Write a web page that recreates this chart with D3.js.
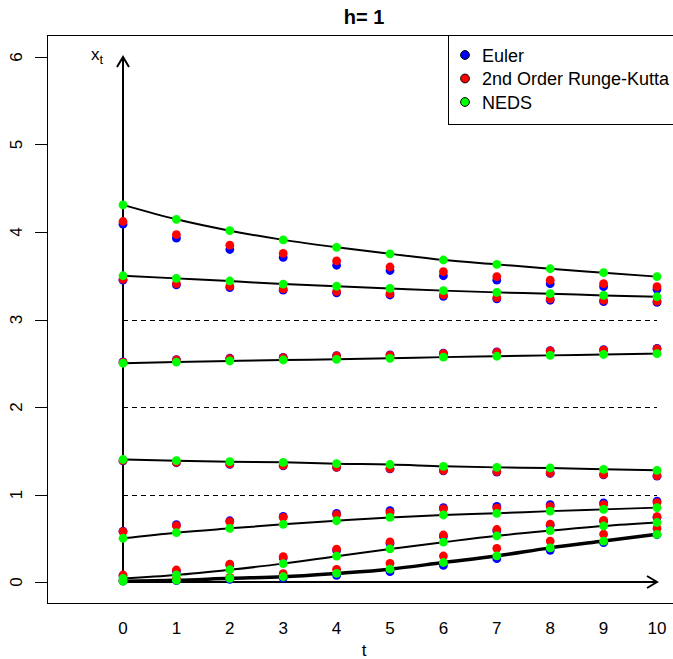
<!DOCTYPE html>
<html lang="en">
<head>
    <meta charset="UTF-8">
    <title>h= 1</title>
    <script src="https://d3js.org/d3.v7.min.js"></script>
    <style>
        body { margin: 0; background: #fff; }
        text { font-family: "Liberation Sans", Arial, sans-serif; fill: #000; }
    </style>
</head>
<body>
    <svg id="chart" width="673" height="659"></svg>

    <script>
        // time steps (h = 1) and y tick labels
        const tValues = [0, 1, 2, 3, 4, 5, 6, 7, 8, 9, 10];
        const yTicks = [0, 1, 2, 3, 4, 5, 6];
        const dashedLevels = [1, 2, 3];

        // Euler approximations, one array per starting value
        const euler = [
            [4.09, 3.93, 3.80, 3.71, 3.62, 3.56, 3.50, 3.45, 3.41, 3.375, 3.345],
            [3.45, 3.395, 3.365, 3.335, 3.305, 3.28, 3.265, 3.235, 3.22, 3.205, 3.195],
            [2.515, 2.542, 2.557, 2.568, 2.588, 2.596, 2.615, 2.63, 2.645, 2.655, 2.67],
            [1.385, 1.363, 1.344, 1.328, 1.309, 1.292, 1.271, 1.256, 1.241, 1.225, 1.21],
            [0.58, 0.655, 0.70, 0.75, 0.785, 0.815, 0.85, 0.865, 0.885, 0.905, 0.925],
            [0.07, 0.125, 0.195, 0.275, 0.36, 0.44, 0.52, 0.585, 0.65, 0.695, 0.74],
            [0.01, 0.015, 0.03, 0.045, 0.075, 0.118, 0.19, 0.267, 0.362, 0.45, 0.54]
        ];

        // 2nd order Runge-Kutta approximations
        const rungeKutta = [
            [4.12, 3.97, 3.85, 3.755, 3.67, 3.60, 3.546, 3.49, 3.45, 3.41, 3.375],
            [3.46, 3.41, 3.38, 3.35, 3.32, 3.295, 3.28, 3.25, 3.235, 3.22, 3.21],
            [2.51, 2.537, 2.552, 2.563, 2.583, 2.59, 2.61, 2.625, 2.64, 2.65, 2.665],
            [1.39, 1.368, 1.349, 1.333, 1.314, 1.297, 1.276, 1.261, 1.246, 1.23, 1.215],
            [0.575, 0.644, 0.69, 0.738, 0.77, 0.795, 0.835, 0.845, 0.865, 0.885, 0.908],
            [0.08, 0.137, 0.205, 0.29, 0.375, 0.458, 0.537, 0.60, 0.662, 0.705, 0.747],
            [0.02, 0.035, 0.054, 0.095, 0.145, 0.213, 0.297, 0.385, 0.468, 0.547, 0.613]
        ];

        // NEDS values (they sit on the exact solution curves)
        const neds = [
            [4.31, 4.145, 4.015, 3.91, 3.825, 3.75, 3.68, 3.63, 3.58, 3.535, 3.49],
            [3.50, 3.47, 3.44, 3.405, 3.38, 3.355, 3.33, 3.31, 3.295, 3.275, 3.26],
            [2.50, 2.514, 2.526, 2.537, 2.545, 2.556, 2.57, 2.58, 2.59, 2.60, 2.61],
            [1.40, 1.387, 1.375, 1.368, 1.352, 1.343, 1.322, 1.31, 1.303, 1.288, 1.276],
            [0.50, 0.564, 0.613, 0.659, 0.70, 0.738, 0.766, 0.785, 0.81, 0.83, 0.85],
            [0.04, 0.08, 0.14, 0.21, 0.295, 0.378, 0.455, 0.528, 0.587, 0.64, 0.68],
            [0.01, 0.02, 0.042, 0.06, 0.099, 0.147, 0.223, 0.298, 0.39, 0.468, 0.545]
        ];

        const legendLabels = ["Euler", "2nd Order Runge-Kutta", "NEDS"];
        const colors = ["#0000ff", "#ff0000", "#00ff00"];
        const curveWidths = [2, 2, 2, 2, 2, 2, 3.5];

        const svg = d3.select("#chart");

        // plot region (R style box)
        const box = { left: 47, right: 683, top: 35, bottom: 603 };

        const x = d3.scaleLinear().domain([0, 10]).range([123, 657]);
        const y = d3.scaleLinear().domain([0, 6]).range([582, 57]);

        svg.append("rect")
            .attr("x", box.left + 0.5).attr("y", box.top + 0.5)
            .attr("width", box.right - box.left).attr("height", box.bottom - box.top)
            .attr("fill", "none").attr("stroke", "#000").attr("stroke-width", 1);

        // y axis: ticks left of the box, labels rotated
        const yAxis = svg.append("g");
        yAxis.selectAll("line")
            .data(yTicks)
            .enter().append("line")
            .attr("x1", 35).attr("x2", box.left)
            .attr("y1", d => Math.round(y(d)) + 0.5).attr("y2", d => Math.round(y(d)) + 0.5)
            .attr("stroke", "#000");
        yAxis.selectAll("text")
            .data(yTicks)
            .enter().append("text")
            .attr("transform", d => `translate(22,${y(d)}) rotate(-90)`)
            .attr("text-anchor", "middle")
            .style("font-size", "17px")
            .text(d => d);

        // x axis labels only
        svg.append("g").selectAll("text")
            .data(tValues)
            .enter().append("text")
            .attr("x", d => x(d))
            .attr("y", 634)
            .attr("text-anchor", "middle")
            .style("font-size", "17px")
            .text(d => d);

        svg.append("text")
            .attr("x", 364).attr("y", 656)
            .attr("text-anchor", "middle")
            .style("font-size", "17px")
            .text("t");

        svg.append("text")
            .attr("x", 364).attr("y", 24)
            .attr("text-anchor", "middle")
            .style("font-size", "20px")
            .style("font-weight", "bold")
            .text("h= 1");

        // x_t label
        const xt = svg.append("text")
            .attr("x", 91).attr("y", 60)
            .style("font-size", "17px");
        xt.append("tspan").text("x");
        xt.append("tspan").attr("dy", 4).style("font-size", "13px").text("t");

        // dashed reference levels
        svg.append("g").selectAll("line")
            .data(dashedLevels)
            .enter().append("line")
            .attr("x1", x(0)).attr("x2", x(10))
            .attr("y1", d => Math.round(y(d)) + 0.5).attr("y2", d => Math.round(y(d)) + 0.5)
            .attr("stroke", "#000").attr("stroke-width", 1)
            .attr("stroke-dasharray", "5,4");

        // arrows for the t and x_t axes
        const arrows = svg.append("g")
            .attr("stroke", "#000").attr("stroke-width", 2).attr("fill", "none");
        arrows.append("path")
            .attr("d", `M${x(0)},${y(0)}L${x(0)},${y(6)}M${x(0) - 6},${y(6) + 10}L${x(0)},${y(6)}L${x(0) + 6},${y(6) + 10}`);
        arrows.append("path")
            .attr("d", `M${x(0)},${y(0)}L${x(10)},${y(0)}M${x(10) - 10},${y(0) - 6}L${x(10)},${y(0)}L${x(10) - 10},${y(0) + 6}`);

        // exact solution curves
        const line = d3.line()
            .x((d, i) => x(tValues[i]))
            .y(d => y(d))
            .curve(d3.curveMonotoneX);

        svg.append("g").selectAll("path")
            .data(neds)
            .enter().append("path")
            .attr("d", line)
            .attr("fill", "none")
            .attr("stroke", "#000")
            .attr("stroke-width", (d, i) => curveWidths[i]);

        // points: Euler first, then Runge-Kutta, NEDS on top
        [euler, rungeKutta, neds].forEach((series, k) => {
            const pts = [];
            series.forEach(curve => curve.forEach((v, i) => pts.push({ t: tValues[i], v: v })));
            svg.append("g").selectAll("circle")
                .data(pts)
                .enter().append("circle")
                .attr("cx", d => x(d.t))
                .attr("cy", d => y(d.v))
                .attr("r", 4.4)
                .attr("fill", colors[k]);
        });

        // legend
        const legend = svg.append("g");
        legend.append("rect")
            .attr("x", 448.5).attr("y", 35.5)
            .attr("width", 260).attr("height", 89)
            .attr("fill", "#fff").attr("stroke", "#000");
        legendLabels.forEach((label, i) => {
            const cy = 55 + i * 23.5;
            legend.append("circle")
                .attr("cx", 465).attr("cy", cy).attr("r", 4.4)
                .attr("fill", colors[i]).attr("stroke", "#000").attr("stroke-width", 1);
            legend.append("text")
                .attr("x", 482).attr("y", cy + 6.5)
                .style("font-size", "18px")
                .text(label);
        });
    </script>
</body>
</html>
